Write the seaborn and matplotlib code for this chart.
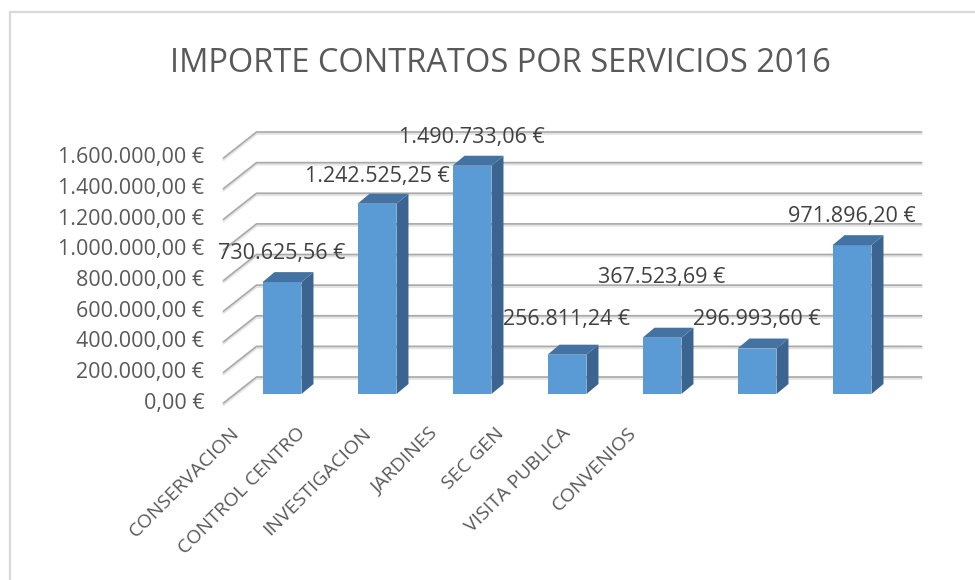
import matplotlib
matplotlib.use('Agg')
import matplotlib.pyplot as plt
from matplotlib.patches import Polygon, Rectangle
from matplotlib.transforms import offset_copy
import pandas as pd
import seaborn as sns


servicios = ['CONSERVACION', 'CONTROL CENTRO', 'INVESTIGACION', 'JARDINES',
             'SEC GEN', 'VISITA PUBLICA', 'CONVENIOS']
importes = [730625.56, 1242525.25, 1490733.06, 256811.24,
            367523.69, 296993.60, 971896.20]
escala = [0, 200000, 400000, 600000, 800000, 1000000, 1200000, 1400000, 1600000]
titulo = 'IMPORTE CONTRATOS POR SERVICIOS 2016'

# how far above each bar Excel left the labels (pixels)
label_lift = [29, 27, 28, 35, 60, 29, 29]

FRONT = (-11, -9)   # front edge of the floor, pixels
BACK = (22, 17)     # back wall, pixels
DEPTH = (12, 10)    # bar depth, pixels


def euros(v):
    s = f'{v:,.2f}'
    return s.replace(',', 'X').replace('.', ',').replace('X', '.') + ' €'


def main():
    sns.set_style('white')
    plt.rcParams['font.family'] = ['Open Sans', 'DejaVu Sans']

    df = pd.DataFrame({'servicio': servicios, 'importe': importes})

    W, H = 975, 580
    fig = plt.figure(figsize=(W / 100, H / 100), dpi=100)

    # chart frame
    fig.patches.append(Rectangle((10 / W, -0.1), 1.2, 568 / H + 0.1,
                                 transform=fig.transFigure, fill=False,
                                 edgecolor='#d9d9d9', lw=1.6))

    ax = fig.add_axes([234.5 / W, (H - 394) / H, 665 / W, 245 / H])
    sns.barplot(data=df, x='servicio', y='importe', color='#5B9BD5',
                saturation=1, width=0.41, linewidth=0, ax=ax, zorder=3)
    ax.set_xlim(-0.5, 6.5)
    ax.set_ylim(0, 1600000)
    ax.axis('off')

    to_disp = ax.transData.transform
    to_data = ax.transData.inverted().transform

    # back wall and side wall gridlines
    for t in escala:
        a = to_disp((-0.5, t))
        b = to_disp((6.5, t))
        for dy, col, lw in [(-1.5, '#e4e4e4', 2.0), (0, '#a9a9a9', 1.2)]:
            pts = [(a[0] + FRONT[0], a[1] + FRONT[1] + dy),
                   (a[0] + BACK[0], a[1] + BACK[1] + dy),
                   (b[0] + BACK[0], b[1] + BACK[1] + dy)]
            d = to_data(pts)
            ax.plot(d[:, 0], d[:, 1], color=col, lw=lw, zorder=1,
                    clip_on=False)
        ax.text(-0.5, t, euros(t), ha='right', va='center', fontsize=15.5,
                color='#595959',
                transform=offset_copy(ax.transData, fig, x=FRONT[0] - 19,
                                      y=FRONT[1], units='dots'))

    # side and top faces of the bars
    for p in list(ax.patches):
        x0, y0 = p.get_xy()
        x1 = x0 + p.get_width()
        y1 = y0 + p.get_height()
        br, tl, tr = to_disp((x1, y0)), to_disp((x0, y1)), to_disp((x1, y1))
        dx, dy = DEPTH
        side = [br, tr, (tr[0] + dx, tr[1] + dy), (br[0] + dx, br[1] + dy)]
        top = [tl, tr, (tr[0] + dx, tr[1] + dy), (tl[0] + dx, tl[1] + dy)]
        ax.add_patch(Polygon(to_data(side), closed=True, facecolor='#3b6590',
                             edgecolor='none', zorder=3, clip_on=False))
        ax.add_patch(Polygon(to_data(top), closed=True, facecolor='#4473a3',
                             edgecolor='none', zorder=3, clip_on=False))

    ax.set_xlim(-0.5, 6.5)
    ax.set_ylim(0, 1600000)

    # data labels
    for i, (v, lift) in enumerate(zip(importes, label_lift)):
        ax.annotate(euros(v), (i, v), xytext=(0, lift),
                    textcoords='offset pixels', ha='center', va='center',
                    fontsize=15.5, color='#404040', zorder=5,
                    annotation_clip=False)

    # category labels (Excel squeezed them to the left)
    lab = fig.add_axes([197 / W, (H - 424) / H, 463 / W, 0.001])
    lab.set_xlim(-0.5, 6.5)
    lab.set_xticks(range(len(servicios)))
    lab.set_xticklabels(servicios, rotation=45, ha='right',
                        rotation_mode='anchor', fontsize=14, color='#595959')
    lab.tick_params(axis='x', length=0, pad=0)
    lab.set_yticks([])
    sns.despine(ax=lab, left=True, bottom=True)
    lab.patch.set_visible(False)

    fig.text(500 / W, 1 - 63 / H, titulo, ha='center', va='center',
             fontsize=23.5, color='#595959')

    fig.savefig('out.png', dpi=100)


if __name__ == '__main__':
    main()
